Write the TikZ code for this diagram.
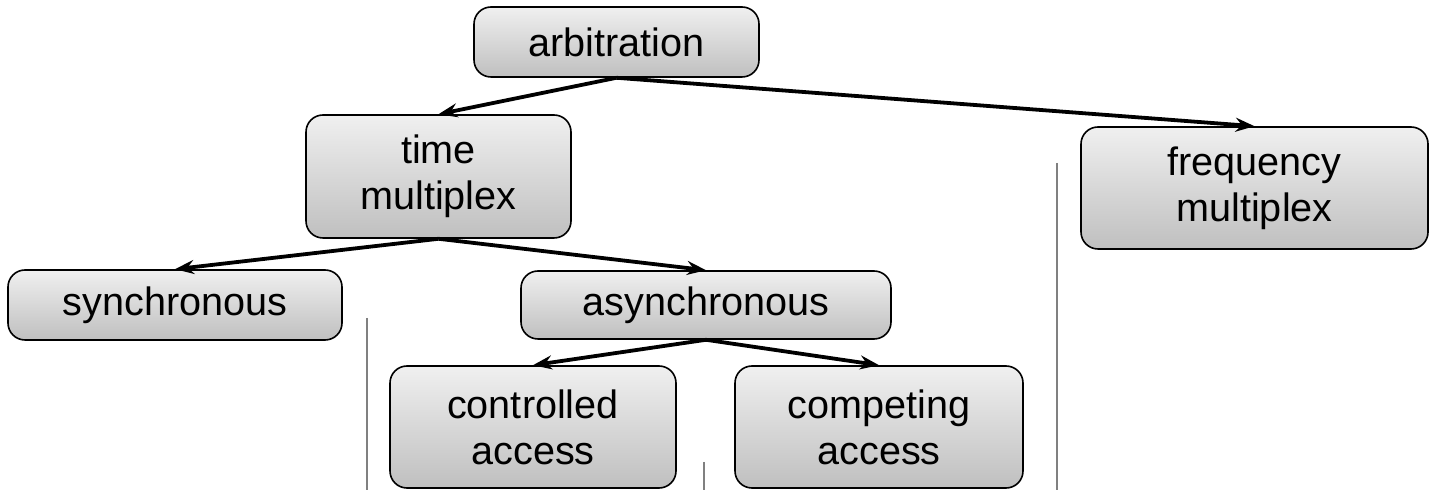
\documentclass[tikz,border=0pt]{standalone}
\usepackage{fontspec}
\setmainfont{Liberation Sans}
\usetikzlibrary{arrows.meta}
\begin{document}
\begin{tikzpicture}[x=0.5pt,y=-0.5pt,
  box/.style={draw=black, line width=0.8pt, rounded corners=8.5pt,
    top color=black!6, bottom color=black!25, inner sep=0pt, align=center,
    font=\fontsize{19.8}{23}\selectfont},
  link/.style={line width=1.9pt, -{Stealth[length=9.5pt,width=7pt,inset=3.2pt]}},
  sep/.style={draw=black!50, line width=0.7pt}]
\useasboundingbox (0,0) rectangle (1438,490);
\node[box, minimum width=142.5pt, minimum height=35pt] (arb) at (616.5,42) {arbitration};
\node[box, minimum width=132.5pt, minimum height=61.5pt] (tm) at (438.5,176.5) {time\\multiplex};
\node[box, minimum width=173.5pt, minimum height=61pt] (fm) at (1254.5,188) {frequency\\multiplex};
\node[box, minimum width=167pt, minimum height=35pt] (sync) at (175,305) {synchronous};
\node[box, minimum width=185pt, minimum height=34pt] (async) at (706,305) {asynchronous};
\node[box, minimum width=143pt, minimum height=61pt] (ctrl) at (533,427) {controlled\\access};
\node[box, minimum width=144pt, minimum height=61pt] (comp) at (879,427) {competing\\access};
\coordinate (s1a) at (367,318); \coordinate (s1b) at (367,490);
\coordinate (s2a) at (704,462); \coordinate (s2b) at (704,490);
\coordinate (s3a) at (1057,163); \coordinate (s3b) at (1057,490);
\draw[sep] (s1a) -- (s1b);
\draw[sep] (s2a) -- (s2b);
\draw[sep] (s3a) -- (s3b);
\draw[link] (arb.south) -- (tm.north);
\draw[link] (arb.south) -- (fm.north);
\draw[link] (tm.south) -- (sync.north);
\draw[link] (tm.south) -- (async.north);
\draw[link] (async.south) -- (ctrl.north);
\draw[link] (async.south) -- (comp.north);
\end{tikzpicture}
\end{document}
